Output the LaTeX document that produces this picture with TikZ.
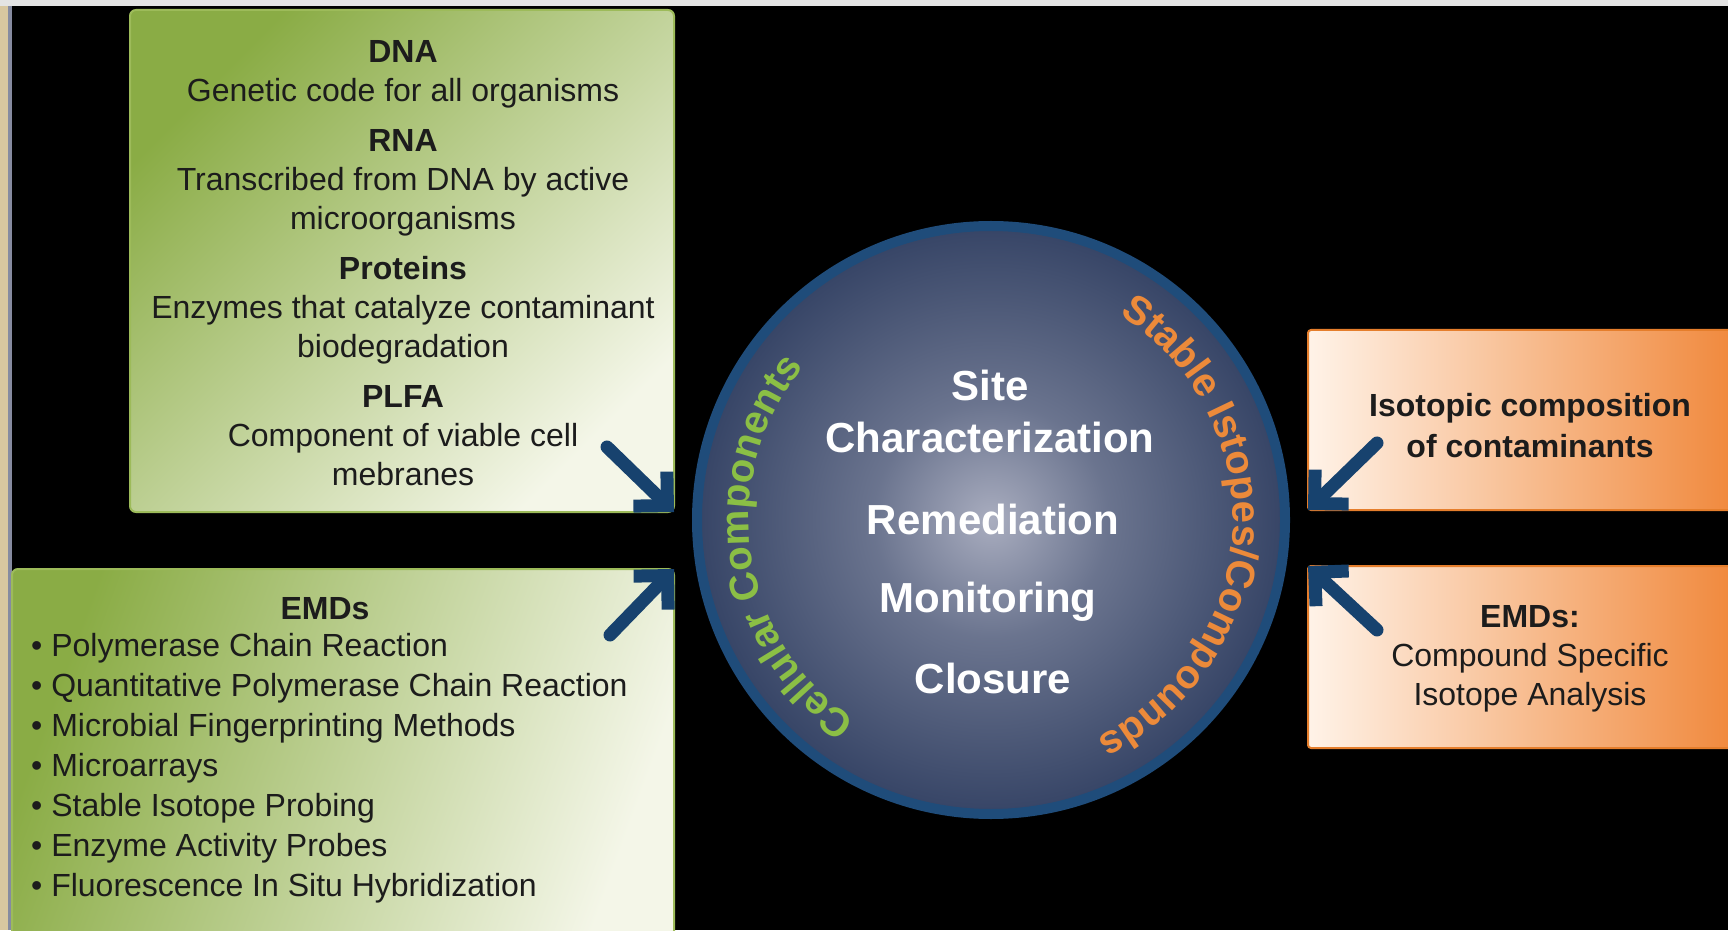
\documentclass[tikz,border=0pt]{standalone}
\usepackage{fontspec}
\setmainfont{Liberation Sans}
\usetikzlibrary{arrows.meta,decorations.text,shadings}

\definecolor{greendark}{HTML}{8AAC45}
\definecolor{greenmid}{HTML}{C3D593}
\definecolor{greenpale}{HTML}{F4F6E8}
\definecolor{greenedge}{HTML}{9DBB5A}
\definecolor{orangepale}{HTML}{FFF3E8}
\definecolor{orangedeep}{HTML}{F0873A}
\definecolor{orangeedge}{HTML}{E57E2C}
\definecolor{feedblue}{HTML}{17426E}
\definecolor{discnavy}{HTML}{2C3B5E}
\definecolor{discmid}{HTML}{A9ADBF}
\definecolor{rimblue}{HTML}{1F4C7A}
\definecolor{cellgreen}{HTML}{8BBF45}
\definecolor{isoorange}{HTML}{EC8A3A}
\definecolor{inkgrey}{HTML}{1C1C1C}
\definecolor{topgrey}{HTML}{E4E4E4}
\definecolor{edgetan}{HTML}{D8C7A0}
\definecolor{edgeblue}{HTML}{868BA0}

\pgfdeclareradialshading{discglow}{\pgfpoint{0bp}{0bp}}{%
  color(0bp)=(discmid); color(10bp)=(discmid!50!discnavy);
  color(28bp)=(discnavy); color(50bp)=(discnavy)}

\newcommand\boxfont{\fontsize{32}{39}\selectfont}
\newcommand\listfont{\fontsize{32}{40}\selectfont}
\newcommand\hubfont{\fontsize{42}{52}\selectfont\bfseries}
\newcommand\arcfont{\fontsize{40}{40}\selectfont\bfseries}

\begin{document}
\begin{tikzpicture}[x=1pt,y=1pt,
  cellbox/.style={draw=greenedge,line width=2pt,rounded corners=6pt,outer sep=0pt,
    left color=greendark,middle color=greenmid,right color=greenpale,shading angle=45},
  isobox/.style={draw=orangeedge,line width=2pt,rounded corners=3pt,outer sep=0pt,
    left color=orangepale,right color=orangedeep},
  boxtext/.style={font=\boxfont,text=inkgrey,inner sep=0pt,align=center},
  phase/.style={font=\hubfont,text=white,inner sep=0pt,align=center},
  feed/.style={draw=feedblue,line width=13pt,line cap=round,-{Straight Barb[angle=90:34pt]}}]
\clip (0,0) rectangle (1728,930);
\fill[black] (0,0) rectangle (1728,930);
\fill[topgrey] (0,924) rectangle (1728,930);
\fill[edgetan] (0,0) rectangle (8,924);
\fill[edgeblue] (8,0) rectangle (12,924);

\node[cellbox,minimum width=544pt,minimum height=502pt] (cell) at (402,669) {};
\node[cellbox,minimum width=662pt,minimum height=380pt,shading angle=70] (emd) at (343,171) {};
\node[isobox,minimum width=432pt,minimum height=180pt] (iso) at (1524,510) {};
\node[isobox,minimum width=432pt,minimum height=182pt] (csia) at (1524,273) {};
\node[circle,shade,shading=discglow,draw=rimblue,line width=10pt,minimum size=588pt] (hub) at (991,410) {};

\node[boxtext,anchor=north] (celltext) at (403,890) {\textbf{DNA}\\Genetic code for all organisms\\[11pt]
  \textbf{RNA}\\Transcribed from DNA by active\\microorganisms\\[11pt]
  \textbf{Proteins}\\Enzymes that catalyze contaminant\\biodegradation\\[11pt]
  \textbf{PLFA}\\Component of viable cell\\mebranes};
\node[boxtext,anchor=base] (emdhead) at (325,311) {\textbf{EMDs}};
\node[boxtext,font=\listfont,align=left,anchor=north west] (emdlist) at (31,297) {%
  \textbullet{} Polymerase Chain Reaction\\
  \textbullet{} Quantitative Polymerase Chain Reaction\\
  \textbullet{} Microbial Fingerprinting Methods\\
  \textbullet{} Microarrays\\
  \textbullet{} Stable Isotope Probing\\
  \textbullet{} Enzyme Activity Probes\\
  \textbullet{} Fluorescence In Situ Hybridization};
\node[boxtext,font=\fontsize{32}{41}\selectfont\bfseries,anchor=north] (isotext) at (1530,537)
  {Isotopic composition\\of contaminants};
\node[boxtext,anchor=north] (csiatext) at (1530,325) {\textbf{EMDs:}\\Compound Specific\\Isotope Analysis};

\node[phase,anchor=north] (charz) at (990,560) {Site\\Characterization};
\node[phase,anchor=base] (remed) at (993,396) {Remediation};
\node[phase,anchor=base] (monit) at (988,318) {Monitoring};
\node[phase,anchor=base] (closr) at (993,237) {Closure};

\path[decorate,decoration={text along path,text align=left,text color=cellgreen,
  text={|\arcfont|Cellular Components}}]
  (hub.center) ++(236:242) arc[start angle=236,end angle=120,radius=242];
\path[decorate,decoration={text along path,text align=left,text color=isoorange,
  text={|\arcfont|Stable Istopes/Compounds}}]
  (hub.center) ++(58:242) arc[start angle=58,end angle=-80,radius=242];

\coordinate (f1) at (607,483);
\coordinate (f2) at (610,295);
\coordinate (f3) at (1377,487);
\coordinate (f4) at (1377,300);
\draw[feed] (f1) -- (cell.south east);
\draw[feed] (f2) -- (emd.north east);
\draw[feed] (f3) -- (iso.south west);
\draw[feed] (f4) -- (csia.north west);
\end{tikzpicture}
\end{document}
